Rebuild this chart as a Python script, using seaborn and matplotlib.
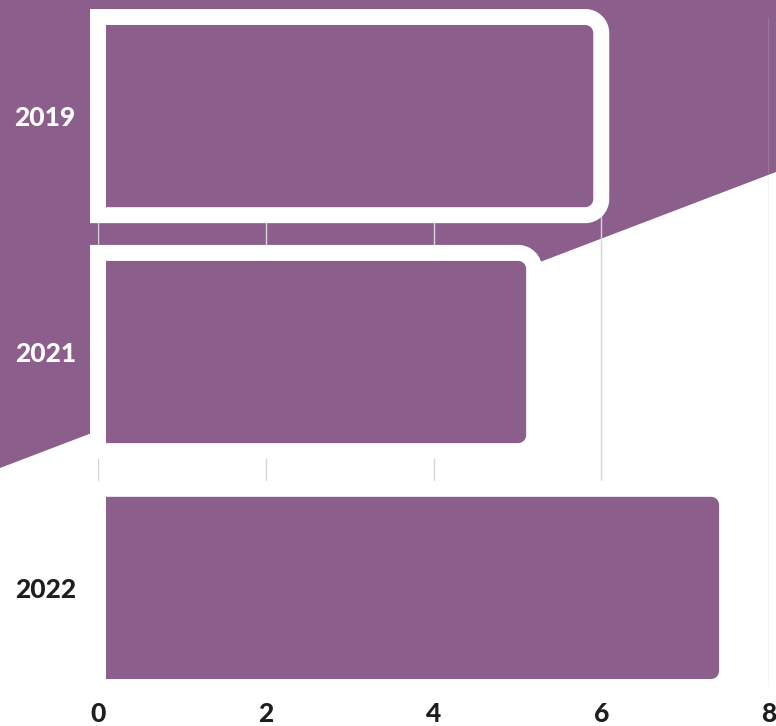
import matplotlib
matplotlib.use("Agg")
import matplotlib.pyplot as plt
import seaborn as sns
from matplotlib.path import Path
from matplotlib.patches import PathPatch, Polygon

# data
years = ["2019", "2021", "2022"]
values = [6.0, 5.2, 7.5]
xticks = [0, 2, 4, 6, 8]
label_colors = ["white", "white", "#1e1e1e"]

PURPLE = "#8b5e8b"
INK = "#1e1e1e"
FONT = ["Lato", "DejaVu Sans"]


def right_rounded(x0, y0, x1, y1, rx, ry):
    """Rectangle path with only the right-hand corners rounded."""
    k = 0.5523
    verts = [
        (x0, y0), (x1 - rx, y0),
        (x1 - rx + k * rx, y0), (x1, y0 + ry - k * ry), (x1, y0 + ry),
        (x1, y1 - ry),
        (x1, y1 - ry + k * ry), (x1 - rx + k * rx, y1), (x1 - rx, y1),
        (x0, y1), (x0, y0),
    ]
    codes = [Path.MOVETO, Path.LINETO,
             Path.CURVE4, Path.CURVE4, Path.CURVE4,
             Path.LINETO,
             Path.CURVE4, Path.CURVE4, Path.CURVE4,
             Path.LINETO, Path.CLOSEPOLY]
    return Path(verts, codes)


sns.set_style("white")
plt.rcParams["font.family"] = FONT

fig = plt.figure(figsize=(7.76, 7.26), dpi=100)
ax = fig.add_axes([98 / 776, 1 - 687 / 726, (769 - 98) / 776, (687 - 17) / 726])
ax.set_facecolor("none")

# purple diagonal backdrop
fig.add_artist(Polygon([(0, 1 - 468 / 726), (1, 1 - 172 / 726), (1, 1), (0, 1)],
                       closed=True, transform=fig.transFigure,
                       facecolor=PURPLE, edgecolor="none", zorder=-1))

sns.barplot(x=values, y=years, orient="h", color=PURPLE, width=0.84,
            saturation=1, ax=ax)

ax.set_xlim(0, 8)
ax.set_ylim(2.42, -0.42)

# pixel radius -> data radius
p0 = ax.transData.transform((0, 0))
p1 = ax.transData.transform((1, 1))
rx = 16 / abs(p1[0] - p0[0])
ry = 16 / abs(p1[1] - p0[1])

for bar in list(ax.patches):
    x, y, w, h = bar.get_x(), bar.get_y(), bar.get_width(), bar.get_height()
    bar.remove()
    ax.add_patch(PathPatch(right_rounded(x, y, x + w, y + h, rx, ry),
                           facecolor=PURPLE, edgecolor="white",
                           linewidth=11.5, joinstyle="miter",
                           clip_on=False, zorder=3))

ax.grid(axis="x", color="#d6d6d6", linewidth=1)
ax.grid(axis="y", visible=False)
ax.set_axisbelow(True)
sns.despine(ax=ax, left=True, bottom=True)

ax.set_xticks(xticks)
ax.set_xticklabels([str(t) for t in xticks], fontsize=19, fontweight="black",
                   color=INK)
ax.tick_params(axis="x", length=0, pad=11)
ax.tick_params(axis="y", length=0, pad=16)
for lab, c in zip(ax.get_yticklabels(), label_colors):
    lab.set_fontsize(19)
    lab.set_fontweight("black")
    lab.set_color(c)
ax.set_xlabel("")
ax.set_ylabel("")

fig.savefig("out.png", dpi=100)
